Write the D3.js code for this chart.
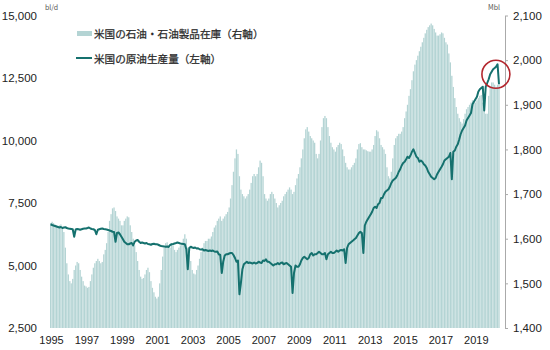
<!DOCTYPE html>
<html><head><meta charset="utf-8">
<script src="https://cdn.jsdelivr.net/npm/d3@7"></script>
<style>
body{margin:0;background:#fff;}
svg{display:block;font-family:"Noto Sans CJK JP","Noto Sans",sans-serif;}
</style></head><body>
<svg id="chart" width="550" height="350"></svg>
<script>
// ---- data (monthly, Jan 1995 - May 2020) ----
const startYear = 1995;
// US petroleum & product inventories (Mbl, right axis)
const inventory = [
1635,1638,1635,1632,1630,1628,1630,1632,1625,1615,1580,1545, // 1995
1520,1505,1500,1510,1530,1540,1548,1545,1530,1515,1505,1495, // 1996
1493,1490,1492,1505,1520,1535,1545,1550,1555,1550,1545,1548, // 1997
1565,1575,1590,1615,1640,1655,1668,1670,1662,1650,1645,1640, // 1998
1630,1630,1640,1645,1650,1648,1630,1615,1600,1585,1570,1550, // 1999
1530,1515,1510,1512,1520,1530,1535,1525,1505,1490,1480,1470, // 2000
1466,1470,1500,1530,1560,1580,1590,1592,1585,1580,1590,1585, // 2001
1575,1570,1575,1580,1585,1590,1600,1610,1600,1580,1565,1550, // 2002
1530,1522,1520,1530,1540,1555,1570,1580,1590,1595,1595,1600, // 2003
1600,1605,1615,1625,1630,1640,1645,1650,1640,1645,1650,1655, // 2004
1660,1670,1690,1720,1750,1780,1800,1790,1740,1710,1700,1695, // 2005
1690,1695,1700,1710,1725,1740,1745,1740,1745,1760,1775,1770, // 2006
1740,1700,1690,1685,1690,1700,1705,1700,1690,1680,1670,1675, // 2007
1680,1685,1695,1700,1705,1710,1715,1710,1700,1705,1720,1735, // 2008
1745,1760,1780,1800,1825,1845,1850,1840,1830,1825,1820,1815, // 2009
1790,1780,1790,1820,1850,1870,1875,1870,1850,1830,1815,1805, // 2010
1800,1795,1805,1810,1815,1812,1800,1785,1770,1760,1755,1755, // 2011
1760,1765,1770,1780,1800,1812,1814,1805,1800,1800,1798,1796, // 2012
1795,1795,1800,1810,1830,1843,1840,1825,1810,1805,1800,1790, // 2013
1760,1740,1735,1750,1780,1810,1825,1830,1835,1835,1840,1850, // 2014
1870,1885,1900,1920,1935,1955,1975,1990,2000,2010,2020,2030, // 2015
2040,2050,2060,2068,2074,2078,2082,2078,2070,2062,2055,2055, // 2016
2058,2062,2060,2050,2040,2035,2015,1995,1965,1940,1915,1895, // 2017
1880,1870,1862,1858,1868,1880,1890,1895,1900,1905,1910,1905, // 2018
1905,1910,1915,1920,1922,1905,1890,1880,1880,1920,1940,1950, // 2019
1950,1945,1940,1945,1945                                      // 2020
];
// US crude oil production (thousand bl/d, left axis)
const production = [
6650,6620,6600,6580,6560,6540,6520,6540,6500,6520,6530,6500, // 1995
6480,6470,6460,6450,6150,6440,6460,6450,6430,6450,6470,6480, // 1996
6480,6500,6520,6480,6460,6450,6420,6250,6430,6450,6470,6480, // 1997
6460,6450,6440,6420,6400,6380,6350,6340,5950,6300,6320,6250, // 1998
6150,6050,5950,5900,5850,5850,5880,5900,5800,5950,6000,6020, // 1999
5950,5900,5920,5900,5880,5900,5860,5850,5830,5860,5870,5850, // 2000
5850,5830,5800,5780,5770,5760,5750,5760,5740,5820,5850,5860, // 2001
5880,5900,5920,5900,5880,5870,5860,5850,5650,4850,5700,5750, // 2002
5720,5700,5720,5680,5690,5650,5640,5650,5600,5620,5600,5580, // 2003
5600,5580,5600,5560,5550,5560,5450,5420,4700,5150,5400,5450, // 2004
5450,5480,5500,5500,5420,5300,5150,5200,3850,4300,4850,5050, // 2005
5100,5150,5100,5120,5100,5080,5120,5080,5100,5150,5120,5100, // 2006
5200,5180,5250,5150,5150,5100,5050,5000,5050,5050,5100,5050, // 2007
5100,5120,5050,5080,5100,5050,5000,4950,3900,4700,5000,4950, // 2008
4950,5050,5200,5300,5350,5300,5250,5300,5450,5500,5400,5450, // 2009
5450,5500,5550,5500,5450,5450,5500,5250,5450,5500,5550,5500, // 2010
5500,5550,5600,5550,5600,5620,5600,5650,5100,5700,5850,5900, // 2011
5950,6000,6050,6100,6200,6300,6350,6300,5500,6600,6750,6850, // 2012
6950,7050,7150,7300,7350,7300,7450,7500,7700,7700,7850,7950, // 2013
8000,8050,8150,8300,8400,8450,8500,8600,8750,8850,9000,9100, // 2014
9150,9250,9350,9300,9400,9550,9650,9500,9350,9300,9150,9200, // 2015
9150,9050,9000,8900,8750,8650,8550,8500,8450,8500,8650,8750, // 2016
8850,8950,9050,9200,9250,9300,9350,9500,8450,9550,9600,9750, // 2017
9850,10050,10250,10400,10500,10600,10800,10900,11000,11100,11450,11550, // 2018
11650,11750,11950,12050,12100,12150,11200,12150,12300,12450,12650,12750, // 2019
12850,12900,12950,13050,12250                                 // 2020
];
const leftTicks = [2500, 5000, 7500, 10000, 12500, 15000];
const rightTicks = [1400, 1500, 1600, 1700, 1800, 1900, 2000, 2100];
const yearTicks = [1995,1997,1999,2001,2003,2005,2007,2009,2011,2013,2015,2017,2019];
const legendLabels = ["米国の石油・石油製品在庫（右軸）", "米国の原油生産量（左軸）"];
const leftUnit = "bl/d";
const rightUnit = "Mbl";

// ---- drawing ----
const barColor = "#b4d4d4", lineColor = "#15716e", ringColor = "#b3262d";
const svg = d3.select("#chart");
const dates = inventory.map((_, i) => new Date(startYear, i, 1));

const x = d3.scaleTime().domain([new Date(1995,0,1), new Date(2020,0,1)]).range([50, 492.5]);
const yL = d3.scaleLinear().domain([2500, 15000]).range([328, 15.5]);
const yR = d3.scaleLinear().domain([1400, 2100]).range([328, 15.5]);
const step = x(new Date(1995,1,1)) - x(new Date(1995,0,1));
const bw = step * 0.85;

svg.append("g").selectAll("rect").data(inventory).join("rect")
  .attr("x", (d, i) => x(dates[i]))
  .attr("width", bw)
  .attr("y", d => yR(d))
  .attr("height", d => yR(1400) - yR(d))
  .attr("fill", barColor);

svg.append("path").datum(production)
  .attr("fill", "none").attr("stroke", lineColor).attr("stroke-width", 2)
  .attr("stroke-linejoin", "round")
  .attr("d", d3.line().x((d, i) => x(dates[i]) + bw / 2).y(d => yL(d)));

// left axis
const gl = svg.append("g").attr("transform", "translate(37,0)")
  .call(d3.axisLeft(yL).tickValues(leftTicks).tickSize(0).tickPadding(0).tickFormat(d3.format(",")));
gl.select(".domain").remove();
gl.selectAll("text").attr("font-size", "11.5px").attr("fill", "#222").style("font-family", "inherit");

// right axis
const gr = svg.append("g").attr("transform", "translate(505,0)")
  .call(d3.axisRight(yR).tickValues(rightTicks).tickSize(3).tickSizeOuter(0).tickPadding(5).tickFormat(d3.format(",")));
gr.select(".domain").attr("stroke", "#aaa");
gr.selectAll(".tick line").attr("stroke", "#aaa");
gr.selectAll("text").attr("font-size", "11.5px").attr("fill", "#222").style("font-family", "inherit");

// bottom axis
const gb = svg.append("g").attr("transform", "translate(1,333)")
  .call(d3.axisBottom(x).tickValues(yearTicks.map(y => new Date(y,0,1))).tickSize(0).tickPadding(3).tickFormat(d3.timeFormat("%Y")));
gb.select(".domain").remove();
gb.selectAll("text").attr("font-size", "11px").attr("fill", "#222").style("font-family", "inherit");

// units
svg.append("text").attr("x", 45).attr("y", 9.5).attr("font-size", "7px").attr("fill", "#555").text(leftUnit);
svg.append("text").attr("x", 488).attr("y", 9.5).attr("font-size", "7px").attr("fill", "#555").text(rightUnit);

// legend
svg.append("rect").attr("x", 77).attr("y", 31).attr("width", 15).attr("height", 5).attr("fill", barColor);
svg.append("line").attr("x1", 76).attr("x2", 92).attr("y1", 58).attr("y2", 58).attr("stroke", lineColor).attr("stroke-width", 2);
svg.selectAll("text.leg").data(legendLabels).join("text").attr("class", "leg")
  .attr("x", 94).attr("y", (d, i) => i === 0 ? 33.5 : 58).attr("dominant-baseline", "central")
  .attr("font-size", "10.6px").attr("fill", "#2a2a2a")
  .attr("stroke", "#2a2a2a").attr("stroke-width", 0.25)
  .text(d => d);

// highlight ring around the production peak
const peakIdx = d3.maxIndex(production);
svg.append("circle")
  .attr("cx", x(dates[peakIdx]) - 1)
  .attr("cy", yL(production[peakIdx]) + 10)
  .attr("r", 14).attr("fill", "none").attr("stroke", ringColor).attr("stroke-width", 1.6);
</script>
</body></html>
